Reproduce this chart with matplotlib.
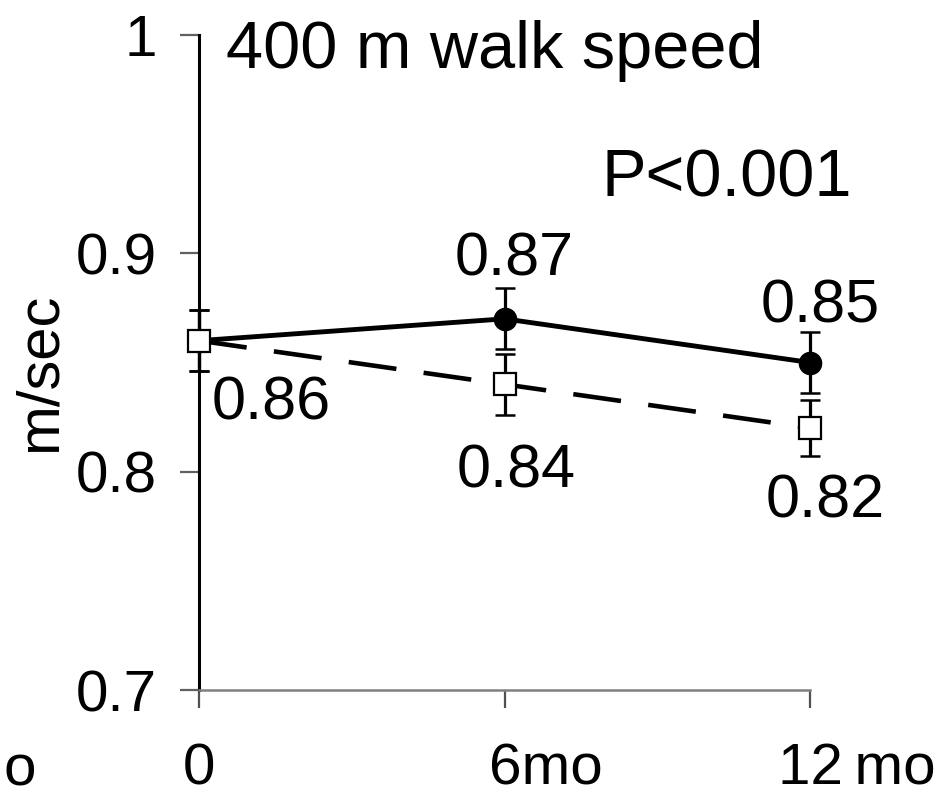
import matplotlib.pyplot as plt
import matplotlib.transforms as mtransforms

plt.rcParams['font.family'] = ['Liberation Sans', 'DejaVu Sans']

# data
months = [0, 6, 12]
month_labels = ["0", "6mo", "12\u2009mo"]

solid_speed = [0.86, 0.87, 0.85]
solid_err = [0.014, 0.014, 0.014]
dashed_speed = [0.86, 0.84, 0.82]
dashed_err = [0.014, 0.014, 0.013]

# which value labels are printed (the 0 mo value is shared)
solid_value_labels = ["", "0.87", "0.85"]
dashed_value_labels = ["0.86", "0.84", "0.82"]

y_ticks = [0.7, 0.8, 0.9, 1.0]
y_tick_labels = ["0.7", "0.8", "0.9", "1"]

title = "400 m walk speed"
p_text = "P<0.001"
y_label = "m/sec"

fig = plt.figure(figsize=(9.41, 7.99), dpi=100)
ax = fig.add_axes([199 / 941, 109 / 799, 611 / 941, 655 / 799])

# error bars first, markers sit on top of them
ax.errorbar(months, solid_speed, yerr=solid_err, fmt='none', ecolor='black',
            elinewidth=2.3, capsize=7.2, capthick=1.8, clip_on=False, zorder=2)
ax.errorbar(months, dashed_speed, yerr=dashed_err, fmt='none', ecolor='black',
            elinewidth=2.3, capsize=7.2, capthick=1.8, clip_on=False, zorder=2)

ax.plot(months, solid_speed, color='black', lw=3.5, marker='o', ms=16,
        mfc='black', mec='black', clip_on=False, zorder=3)
ax.plot(months, dashed_speed, color='black', lw=3.3, linestyle=(0, (10.5, 6)),
        marker='s', ms=16, mfc='white', mec='black', mew=1.6,
        clip_on=False, zorder=4)

# value labels (offsets in pixels from the point, baseline anchored)
solid_offsets = [(0, 0), (10, 43), (10, 40)]
dashed_offsets = [(72, -79), (12, -103), (15, -89)]
for m, v, txt, off in zip(months, solid_speed, solid_value_labels, solid_offsets):
    if txt:
        ax.annotate(txt, xy=(m, v), xytext=off, textcoords='offset pixels',
                    ha='center', va='baseline', fontsize=44, annotation_clip=False)
for m, v, txt, off in zip(months, dashed_speed, dashed_value_labels, dashed_offsets):
    ax.annotate(txt, xy=(m, v), xytext=off, textcoords='offset pixels',
                ha='center', va='baseline', fontsize=44, annotation_clip=False)

ax.text(0.4845, 0.9496, title, transform=ax.transAxes, ha='center',
        va='baseline', fontsize=48)
ax.text(0.864, 0.7527, p_text, transform=ax.transAxes, ha='center',
        va='baseline', fontsize=48)

ax.set_xlim(0, 12)
ax.set_ylim(0.7, 1.0)

ax.spines['top'].set_visible(False)
ax.spines['right'].set_visible(False)
ax.spines['left'].set_linewidth(2.2)
ax.spines['left'].set_color('black')
ax.spines['bottom'].set_linewidth(1.8)
ax.spines['bottom'].set_color('#808080')

ax.set_yticks(y_ticks)
ax.set_yticklabels(y_tick_labels)
ax.tick_params(axis='y', direction='out', length=13.5, width=1.6,
               color='#606060', pad=17, labelsize=42)

ax.set_xticks(months)
ax.set_xticklabels(month_labels)
ax.tick_params(axis='x', direction='out', length=13, width=1.6,
               color='#505050', pad=24.5, labelsize=42)
# number part of each label is centred on its tick, "mo" trails to the right
for lab, shift in zip(ax.get_xticklabels(), [-16, -15, -32]):
    lab.set_ha('left')
    lab.set_transform(lab.get_transform()
                      + mtransforms.ScaledTranslation(shift / 100, 0, fig.dpi_scale_trans))

fig.text(40 / 941, 1 - 372 / 799, y_label, rotation=90, ha='center',
         va='center', fontsize=43)

# leftover of the neighbouring panel's axis label at the left edge
fig.text(36 / 941, 14 / 799, "o", ha='right', va='baseline', fontsize=42)

fig.savefig("out.png", dpi=100)
